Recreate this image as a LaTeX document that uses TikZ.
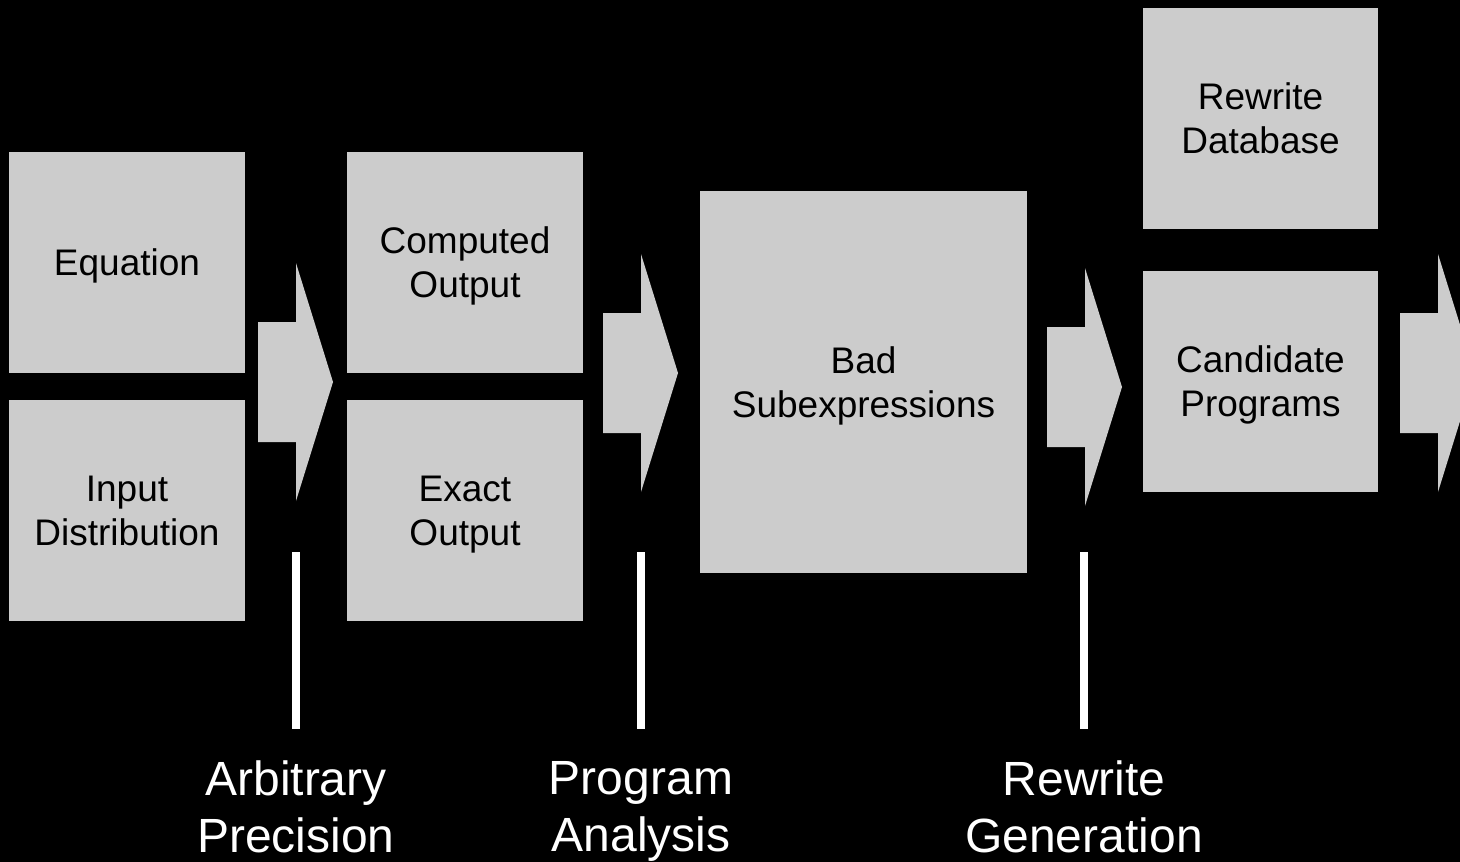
\documentclass[tikz,border=0pt]{standalone}
\usepackage{fontspec}
\setmainfont{Liberation Sans}
\usepackage{tikz}
\usetikzlibrary{positioning}
\definecolor{boxColor}{HTML}{CCCCCC}
\definecolor{backColor}{rgb}{0,0,0}

\begin{document}
\begin{tikzpicture}[x=1pt,y=-1pt]

          \tikzstyle{stageBox} = [fill=boxColor, text=black, inner sep=0pt, align=center,
                                  minimum width=236pt, minimum height=221pt, text depth=0pt,
                                  font=\fontsize{37}{44}\selectfont];
          \tikzstyle{bigBox} = [stageBox, minimum width=327pt, minimum height=382pt];
          \tikzstyle{stageLabel} = [white, inner sep=0pt, align=center, anchor=north,
                                    font=\fontsize{48}{57}\selectfont];
          \tikzstyle{bigArrow} = [fill=boxColor];
          \tikzstyle{markBar} = [white, line width=8pt];

          \useasboundingbox (0,0) rectangle (1460,862);
          \clip (0,0) rectangle (1460,862);
          \fill[backColor] (0,0) rectangle (1460,862);

          \node[stageBox] (eqn) at (127,262.5) {Equation};
          \node[stageBox] (dist) at (127,510.5) {Input\\Distribution};
          \node[stageBox] (comp) at (465,262.5) {Computed\\Output};
          \node[stageBox] (exact) at (465,510.5) {Exact\\Output};
          \node[bigBox] (bad) at (863.5,382) {Bad\\Subexpressions};
          \node[stageBox, minimum width=235pt] (rwdb) at (1260.5,118.5) {Rewrite\\Database};
          \node[stageBox, minimum width=235pt] (cand) at (1260.5,381.5) {Candidate\\Programs};

          \foreach \x/\y in {258/382, 603/373, 1047/387, 1400/373}
            \fill[bigArrow] (\x,\y-60) -- (\x+38,\y-60) -- (\x+38,\y-119) -- (\x+75,\y)
                            -- (\x+38,\y+119) -- (\x+38,\y+60) -- (\x,\y+60) -- cycle;

          \node[stageLabel] (arb) at (296,761) {Arbitrary\\Precision};
          \node[stageLabel] (prog) at (641,761) {Program\\Analysis};
          \node[stageLabel] (gen) at (1084,761) {Rewrite\\Generation};

          \coordinate (arbTop) at (296,552);
          \coordinate (progTop) at (641,552);
          \coordinate (genTop) at (1084,552);

          \draw[markBar] (arbTop) -- ++(0,177);
          \draw[markBar] (progTop) -- ++(0,177);
          \draw[markBar] (genTop) -- ++(0,177);
        \end{tikzpicture}
\end{document}
